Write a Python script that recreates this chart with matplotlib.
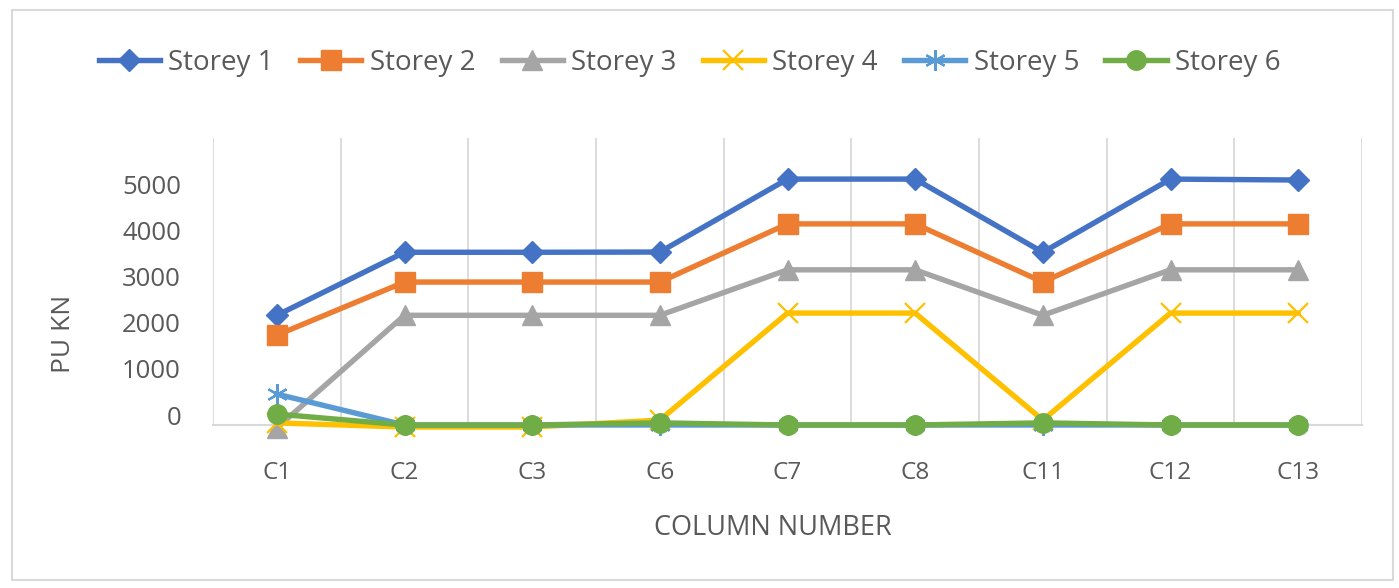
import matplotlib
matplotlib.use("Agg")
import matplotlib.pyplot as plt
from matplotlib.patches import Rectangle

plt.rcParams['font.family'] = ['Open Sans', 'DejaVu Sans']

columns = ["C1", "C2", "C3", "C6", "C7", "C8", "C11", "C12", "C13"]
storey_1 = [2160, 3525, 3525, 3530, 5110, 5110, 3525, 5110, 5090]
storey_2 = [1730, 2880, 2880, 2880, 4140, 4140, 2880, 4140, 4140]
storey_3 = [-280, 2160, 2160, 2160, 3145, 3145, 2160, 3145, 3145]
storey_4 = [-170, -260, -260, -110, 2208, 2208, -110, 2208, 2208]
storey_5 = [453, -216, -216, -216, -216, -216, -216, -216, -216]
storey_6 = [20, -216, -216, -170, -216, -216, -170, -216, -216]
y_ticks = [0, 1000, 2000, 3000, 4000, 5000]

series = [
    ("Storey 1", storey_1, "#4472C4", dict(marker="D", markersize=11)),
    ("Storey 2", storey_2, "#ED7D31", dict(marker="s", markersize=14)),
    ("Storey 3", storey_3, "#A5A5A5", dict(marker="^", markersize=14)),
    ("Storey 4", storey_4, "#FFC000", dict(marker="x", markersize=14, markeredgewidth=1.6)),
    ("Storey 5", storey_5, "#5B9BD5", dict(marker=(6, 2, 0), markersize=15, markeredgewidth=1.6)),
    ("Storey 6", storey_6, "#70AD47", dict(marker="o", markersize=14)),
]

text_color = "#595959"
grid_color = "#D9D9D9"

fig = plt.figure(figsize=(13.99, 5.88), dpi=100)
fig.patches.append(Rectangle((12 / 1399, 8 / 588), 1381 / 1399, 570 / 588,
                             transform=fig.transFigure, fill=False,
                             edgecolor=grid_color, linewidth=1.5))

ax = fig.add_axes([213 / 1399, 1 - 425 / 588, 1149 / 1399, 287 / 588])
x = list(range(len(columns)))

for name, values, color, mk in series:
    ax.plot(x, values, color=color, linewidth=3.9, label=name, clip_on=False,
            markerfacecolor=color, markeredgecolor=color, **mk)

ax.set_xlim(-0.5, len(columns) - 0.5)
ax.set_ylim(-216, 6000)

for b in [i - 0.5 for i in range(len(columns) + 1)]:
    ax.axvline(b, color=grid_color, linewidth=1.3, zorder=0)

for s in ["top", "right", "left"]:
    ax.spines[s].set_visible(False)
ax.spines["bottom"].set_color(grid_color)
ax.spines["bottom"].set_linewidth(1.5)
ax.spines["bottom"].set_zorder(0)

ax.set_xticks(x)
ax.set_xticklabels(columns, fontsize=17.5, color=text_color)
ax.set_yticks(y_ticks)
ax.set_yticklabels([str(v) for v in y_ticks], fontsize=18.5, color=text_color)
ax.tick_params(axis="x", length=0, pad=26)
ax.tick_params(axis="y", length=0, pad=23)

ax.set_xlabel("COLUMN NUMBER", fontsize=19.5, color=text_color)
ax.xaxis.set_label_coords(0.487, -0.359)
ax.xaxis.label.set_va("center")
ax.set_ylabel("PU KN", fontsize=19, color=text_color)
ax.yaxis.set_label_coords(-0.1297, 0.317)
ax.yaxis.label.set_va("center")

fig.legend(loc="center", bbox_to_anchor=(0.493, 1 - 63 / 588), ncol=6,
           frameon=False, fontsize=20, handlelength=2.2, handletextpad=0.3,
           columnspacing=0.95, labelcolor=text_color)

fig.savefig("out.png", dpi=100)
